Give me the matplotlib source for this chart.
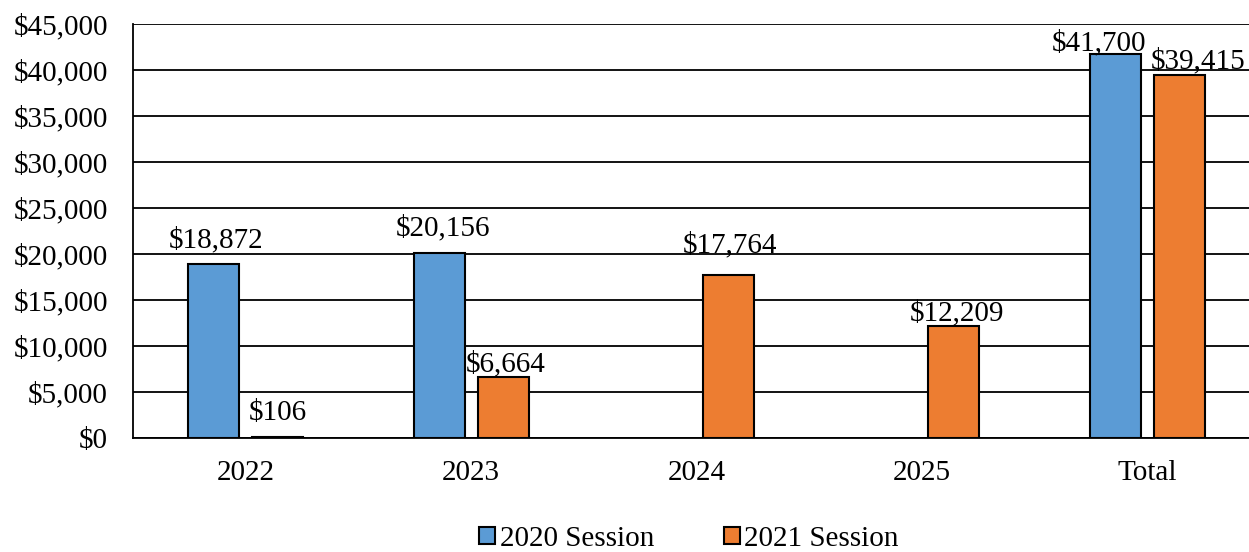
import matplotlib
matplotlib.use("Agg")
import matplotlib.pyplot as plt
import numpy as np
from matplotlib.ticker import FuncFormatter, MultipleLocator

categories = ["2022", "2023", "2024", "2025", "Total"]
session_2020 = [18872, 20156, 0, 0, 41700]
session_2021 = [106, 6664, 17764, 12209, 39415]
series_names = ["2020 Session", "2021 Session"]

# label offsets (points): (dx, dy) relative to bar top centre, None = no label
off_2020 = [(2, 12), (3, 12.5), None, None, (-12, 3.2)]
off_2021 = [(0, 12), (2, 3.5), (1, 16), (2, 3.5), (13.5, 5.3)]

plt.rcParams['font.family'] = ['Liberation Serif', 'DejaVu Serif']
FS = 21

fig = plt.figure(figsize=(12.49, 5.52), dpi=100)
L, R, B, T = 133/1249, 1260/1249, 1-438/552, 1-24/552
ax = fig.add_axes([L, B, R-L, T-B])

x = np.arange(len(categories))
w = 0.226
d = 0.142
c1, c2 = "#5B9BD5", "#ED7D31"
v1 = [v if v > 0 else np.nan for v in session_2020]
b1 = ax.bar(x - d, v1, w, color=c1, edgecolor="black", linewidth=1.5, label=series_names[0], zorder=3)
b2 = ax.bar(x + d, session_2021, w, color=c2, edgecolor="black", linewidth=1.5, label=series_names[1], zorder=3)

for xs, vals, offs in [(x - d, session_2020, off_2020), (x + d, session_2021, off_2021)]:
    for xi, v, o in zip(xs, vals, offs):
        if o is None or v <= 0:
            continue
        ax.annotate(f"${v:,.0f}", (xi, v), xytext=o, textcoords="offset points",
                    ha="center", va="baseline", fontsize=FS, zorder=4)

ax.set_xlim(-0.5, len(categories) - 0.5)
ax.set_ylim(0, 45000)
ax.yaxis.set_major_locator(MultipleLocator(5000))
ax.yaxis.set_major_formatter(FuncFormatter(lambda v, p: f"${v:,.0f}"))
ax.set_xticks(x)
ax.set_xticklabels(categories)
ax.tick_params(axis="both", length=0, labelsize=FS)
ax.tick_params(axis="y", pad=18)
ax.tick_params(axis="x", pad=16)
ax.grid(axis="y", color="black", linewidth=1.3, zorder=0)
ax.set_axisbelow(True)
for s in ["top", "right"]:
    ax.spines[s].set_visible(False)
ax.spines["left"].set_linewidth(1.3)
ax.spines["bottom"].set_linewidth(1.3)

leg = fig.legend(handles=[b1, b2], labels=series_names, loc="lower center",
                 bbox_to_anchor=(689/1249, 0.0), ncol=2, frameon=False,
                 fontsize=FS, handlelength=0.55, handleheight=0.55,
                 handletextpad=0.15, columnspacing=2.4, borderpad=0,
                 borderaxespad=0)

fig.savefig("out.png", dpi=100)
